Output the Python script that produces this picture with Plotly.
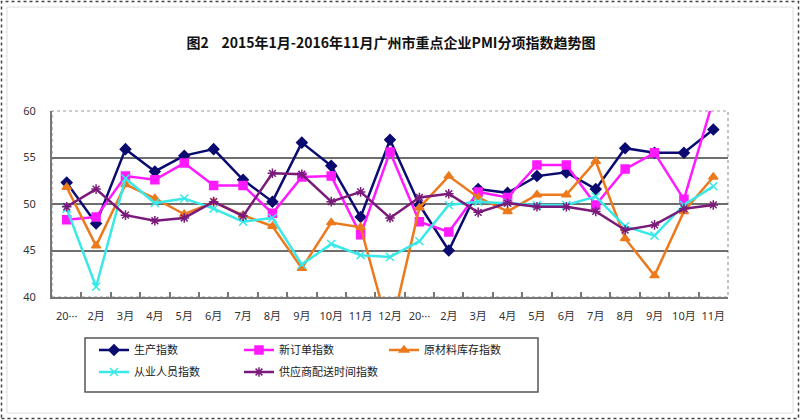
import plotly.graph_objects as go

# ---- data ----
cat_ids = ["2015-01", "2015-02", "2015-03", "2015-04", "2015-05", "2015-06", "2015-07", "2015-08",
           "2015-09", "2015-10", "2015-11", "2015-12", "2016-01", "2016-02", "2016-03", "2016-04",
           "2016-05", "2016-06", "2016-07", "2016-08", "2016-09", "2016-10", "2016-11"]
tick_labels = ["20···", "2月", "3月", "4月", "5月", "6月", "7月", "8月", "9月", "10月", "11月", "12月",
               "20···", "2月", "3月", "4月", "5月", "6月", "7月", "8月", "9月", "10月", "11月"]

production = [52.3, 47.9, 55.9, 53.5, 55.2, 55.9, 52.6, 50.25, 56.6, 54.1, 48.6, 56.9,
              49.9, 45.0, 51.6, 51.2, 53.0, 53.4, 51.6, 56.0, 55.5, 55.5, 58.0]
new_orders = [48.3, 48.6, 53.0, 52.6, 54.4, 52.0, 52.0, 49.0, 52.9, 53.0, 46.7, 55.6,
              48.1, 47.0, 51.3, 50.7, 54.2, 54.2, 49.9, 53.75, 55.5, 50.5, 61.2]
raw_inventory = [51.8, 45.5, 52.1, 50.6, 48.9, 50.2, 48.8, 47.6, 43.1, 48.0, 47.5, 36.0,
                 49.6, 53.0, 50.7, 49.2, 51.0, 51.0, 54.6, 46.3, 42.3, 49.2, 52.9]
employment = [49.5, 41.1, 52.75, 50.1, 50.6, 49.5, 48.1, 48.5, 43.5, 45.7, 44.5, 44.3,
              46.0, 49.9, 50.25, 50.1, 49.9, 49.9, 50.8, 47.6, 46.6, 49.9, 51.9]
delivery = [49.7, 51.6, 48.8, 48.2, 48.5, 50.25, 48.7, 53.3, 53.2, 50.25, 51.3, 48.5,
            50.7, 51.1, 49.1, 50.1, 49.7, 49.7, 49.2, 47.2, 47.75, 49.5, 49.9]

series_names = ["生产指数", "新订单指数", "原材料库存指数", "从业人员指数", "供应商配送时间指数"]
y_ticks = [40, 45, 50, 55, 60]
title_text = "图2\u00a0\u00a0\u00a0\u00a02015年1月-2016年11月广州市重点企业PMI分项指数趋势图"

# ---- layout geometry (pixels) ----
W, H = 800, 420
ML, MR, MT, MB = 52, 72, 111, 123
PW, PH = W - ML - MR, H - MT - MB

def px(x):
    return (x - ML) / PW

def py(y):
    return (H - MB - y) / PH

FONT = "Noto Sans CJK SC, Noto Sans, sans-serif"
TICKFONT = "Noto Sans, Noto Sans CJK SC, sans-serif"

styles = [
    dict(color="#0a0a70", symbol="diamond", size=8, lw=2.5),
    dict(color="#ff1aff", symbol="square", size=8, lw=2.5),
    dict(color="#ec7a1c", symbol="triangle-up", size=8, lw=2.5),
    dict(color="#3ae8e8", symbol="x-thin-open", size=8, lw=2.5),
    dict(color="#7a1a7a", symbol="asterisk-open", size=8, lw=2.5),
]
data = [production, new_orders, raw_inventory, employment, delivery]
legend_ids = ["legend", "legend", "legend", "legend2", "legend2"]

fig = go.Figure()
for name, vals, st, lg in zip(series_names, data, styles, legend_ids):
    fig.add_trace(go.Scatter(
        x=cat_ids, y=vals, name=name, mode="lines+markers",
        line=dict(color=st["color"], width=st["lw"]),
        marker=dict(symbol=st["symbol"], size=st["size"], color=st["color"],
                    line=dict(color=st["color"], width=1.5)),
        legend=lg,
    ))

legend_common = dict(
    orientation="h", bgcolor="rgba(0,0,0,0)", borderwidth=0,
    font=dict(family=FONT, size=11, color="#222"),
    entrywidth=100, entrywidthmode="pixels", itemwidth=30,
    xanchor="left", yanchor="middle", tracegroupgap=0,
)

fig.update_layout(
    width=W, height=H,
    margin=dict(l=ML, r=MR, t=MT, b=MB, pad=0),
    paper_bgcolor="white", plot_bgcolor="white",
    title=dict(text=title_text, x=391 / W, xanchor="center", y=1 - 43 / H, yanchor="middle",
               font=dict(family=FONT, size=14, color="#111", weight="bold")),
    legend=dict(**legend_common, x=px(94), y=py(350)),
    legend2=dict(**legend_common, x=px(94), y=py(372)),
    xaxis=dict(
        type="category", categoryorder="array", categoryarray=cat_ids,
        tickmode="array", tickvals=cat_ids, ticktext=tick_labels,
        range=[-0.5, len(cat_ids) - 0.5],
        tickson="boundaries", ticks="inside", ticklen=5, tickcolor="#777", tickwidth=1.5,
        tickangle=0, ticklabelstandoff=8,
        showline=True, linecolor="#777", linewidth=2,
        showgrid=False, zeroline=False,
        tickfont=dict(family=TICKFONT, size=11, color="#333"),
        fixedrange=True,
    ),
    yaxis=dict(
        range=[40, 60], tickvals=y_ticks,
        ticks="", ticklabelstandoff=12,
        showline=True, linecolor="#777", linewidth=2,
        showgrid=True, gridcolor="#6e6e6e", gridwidth=2,
        zeroline=False,
        tickfont=dict(family=TICKFONT, size=11, color="#333"),
        fixedrange=True,
    ),
    showlegend=True,
)

# dotted plot-area frame (top/right)
fig.add_shape(type="rect", xref="paper", yref="paper", x0=0, x1=1, y0=0, y1=1,
              line=dict(color="#9a9a9a", width=1.2, dash="dot"), layer="below")
# legend box
fig.add_shape(type="rect", xref="paper", yref="paper",
              x0=px(85), x1=px(538), y0=py(392), y1=py(338),
              line=dict(color="#555", width=1.5))
# outer image frame
fig.add_shape(type="rect", xref="paper", yref="paper",
              x0=px(1.5), x1=px(798.5), y0=py(418.5), y1=py(1.5),
              line=dict(color="#444", width=1.5, dash="dot"))
fig.add_shape(type="rect", xref="paper", yref="paper",
              x0=px(7), x1=px(793), y0=py(413), y1=py(7),
              line=dict(color="#dddddd", width=1))

fig.write_html("out.html", config={"displayModeBar": False},
               post_script="document.body.style.margin='0';document.body.style.overflow='hidden';")
